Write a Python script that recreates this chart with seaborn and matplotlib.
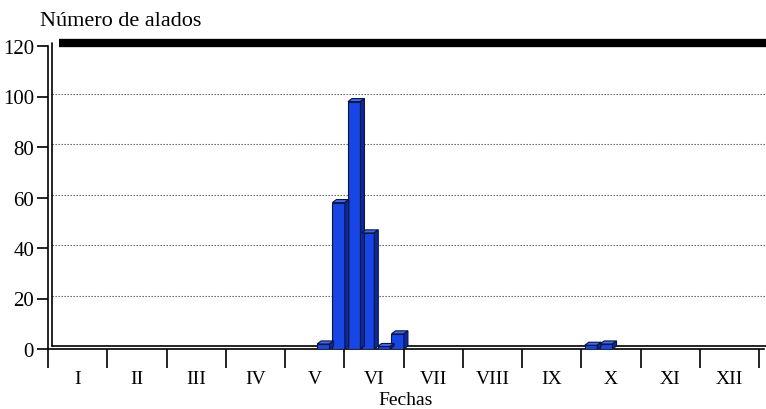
import matplotlib
matplotlib.use("Agg")
import matplotlib.pyplot as plt
import matplotlib.transforms as mtransforms
from matplotlib.patches import Polygon
import seaborn as sns
import pandas as pd
import numpy as np

# ---- data ----
fechas = ["2000-05-21", "2000-05-29", "2000-06-06", "2000-06-13",
          "2000-06-21", "2000-06-28", "2000-10-06", "2000-10-14"]
alados = [2, 58, 98, 46, 1, 6, 1.5, 2]
meses = ["I", "II", "III", "IV", "V", "VI", "VII", "VIII", "IX", "X", "XI", "XII"]
y_ticks = [0, 20, 40, 60, 80, 100, 120]

d = pd.to_datetime(pd.Series(fechas))
mes_frac = (d.dt.month - 1) + (d.dt.day - 1) / d.dt.days_in_month
df = pd.DataFrame({"mes": mes_frac.values, "alados": alados})

sns.set_theme(style="ticks")
plt.rcParams["font.family"] = ["Liberation Serif", "DejaVu Serif"]
plt.rcParams["text.color"] = "black"
plt.rcParams["axes.labelcolor"] = "black"
plt.rcParams["xtick.labelcolor"] = "black"
plt.rcParams["ytick.labelcolor"] = "black"

fig = plt.figure(figsize=(7.66, 4.10), dpi=100)
ax = fig.add_axes([48/766, 60/410, 716/766, 303/410])

FRONT = "#1846e6"
SIDE = "#0b2a9c"
TOP = "#3d6cf2"
EDGE = "#0a1540"

sns.barplot(data=df, x="mes", y="alados", native_scale=True, color=FRONT,
            saturation=1, edgecolor=EDGE, linewidth=0.8, width=0.9, ax=ax, zorder=3)
ax.set_xlim(0, 12.08)
ax.set_ylim(0, 120)

# 3D depth (in pixels -> data units)
dx_px, dy_px = 4, 3
inv = ax.transData.inverted()
def px2data(px, py):
    p0 = inv.transform((0, 0))
    p1 = inv.transform((px, py))
    return p1[0] - p0[0], p1[1] - p0[1]
ddx, ddy = px2data(dx_px, dy_px)

for p in list(ax.patches):
    x0, y0 = p.get_x(), p.get_y()
    w, h = p.get_width(), p.get_height()
    x1, y1 = x0 + w, y0 + h
    top = Polygon([(x0, y1), (x1, y1), (x1 + ddx, y1 + ddy), (x0 + ddx, y1 + ddy)],
                  closed=True, facecolor=TOP, edgecolor=EDGE, lw=0.8, zorder=3)
    side = Polygon([(x1, y0), (x1 + ddx, y0 + ddy), (x1 + ddx, y1 + ddy), (x1, y1)],
                   closed=True, facecolor=SIDE, edgecolor=EDGE, lw=0.8, zorder=3)
    ax.add_patch(top)
    ax.add_patch(side)

# gridlines (back wall)
off = mtransforms.offset_copy(ax.transData, fig=fig, x=dx_px, y=dy_px, units="dots")
for yv in y_ticks[1:-1]:
    ax.plot([0, 12.08], [yv, yv], transform=off, ls=(0, (1.2, 1.5)),
            color="#555555", lw=0.8, zorder=1, clip_on=False)

# floor back edge and left wall
ax.plot([0, 12.08], [0, 0], transform=off, color="black", lw=1.2, zorder=2, clip_on=False)
ax.plot([0, 0], [0, 120], transform=off, color="black", lw=1.2, zorder=2, clip_on=False)
ax.plot([0.12, 12.08], [120, 120], transform=off, color="black", lw=6, zorder=4,
        clip_on=False, solid_capstyle="butt")

# spines
for s in ["top", "right"]:
    ax.spines[s].set_visible(False)
for s in ["left", "bottom"]:
    ax.spines[s].set_color("black")
    ax.spines[s].set_linewidth(1.2)

ax.set_yticks(y_ticks)
ax.set_yticklabels([str(v) for v in y_ticks], fontsize=15)
ax.tick_params(axis="y", left=True, direction="out", length=8, width=1.2, color="black", pad=2)

ax.set_xticks(np.arange(0, 13))
ax.set_xticklabels([])
ax.set_xticks(np.arange(12) + 0.5, minor=True)
ax.set_xticklabels(meses, minor=True, fontsize=14)
ax.tick_params(axis="x", which="major", bottom=True, direction="out", length=14, width=1.2, color="black")
ax.tick_params(axis="x", which="minor", bottom=True, length=0, pad=15)

ax.set_xlabel("Fechas", fontsize=14, labelpad=3)
ax.set_ylabel("")
fig.text(40/766, 1 - 22/410, "Número de alados", fontsize=16, ha="left", va="center")

fig.savefig("out.png", dpi=100)
